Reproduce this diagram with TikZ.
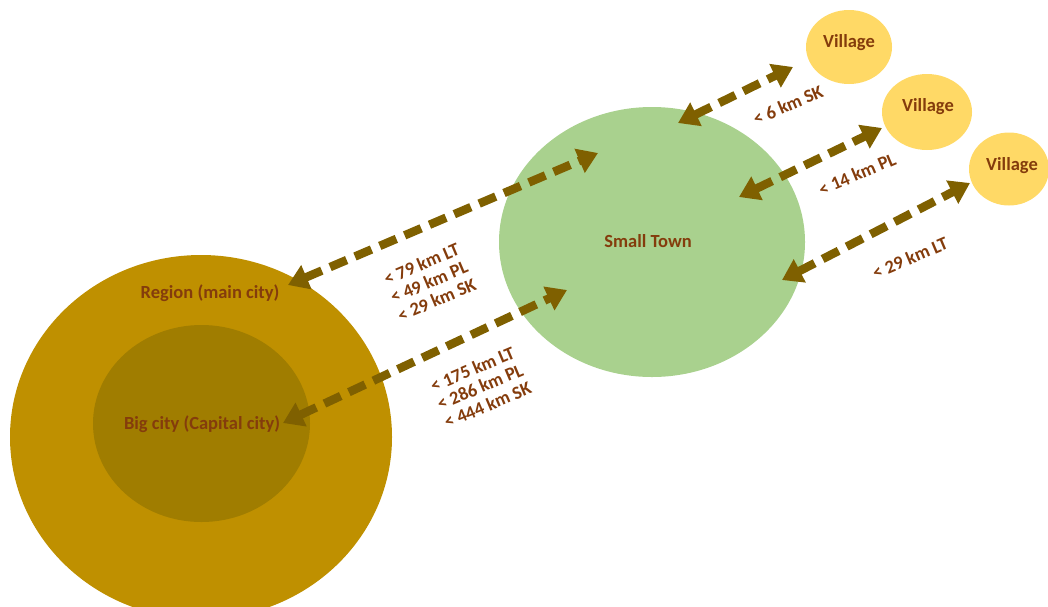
\documentclass[tikz,border=0pt]{standalone}
\usepackage{fontspec}
\setmainfont{Carlito}
\usetikzlibrary{shapes.geometric,arrows.meta}
\definecolor{outerc}{HTML}{BF9000}
\definecolor{innerc}{HTML}{A07D00}
\definecolor{townc}{HTML}{A9D18E}
\definecolor{villc}{HTML}{FFD966}
\definecolor{arrc}{HTML}{7F6000}
\definecolor{txtc}{HTML}{843C0C}
\begin{document}
\begin{tikzpicture}[x=1pt,y=-1pt,
  blob/.style={ellipse,draw=none,inner sep=0pt},
  lbl/.style={text=txtc,font=\fontsize{18.5}{19.5}\selectfont\bfseries,inner sep=0pt},
  dist/.style={lbl,rotate=23,align=center},
  conn/.style={draw=arrc,line width=8.5pt,dash pattern=on 18pt off 9pt,
    {Triangle[width=25pt,length=20pt]}-{Triangle[width=25pt,length=20pt]}}]
\useasboundingbox (0,0) rectangle (1048,606);
\clip (0,0) rectangle (1048,606);
% shapes
\node[blob,fill=outerc,minimum width=382pt,minimum height=364pt] (region) at (201,437) {};
\node[blob,fill=innerc,minimum width=217pt,minimum height=197pt] (big) at (201.5,423.5) {};
\node[blob,fill=townc,minimum width=306pt,minimum height=270pt] (town) at (652,242) {};
\node[blob,fill=villc,minimum width=86pt,minimum height=74pt] (v1) at (849,47) {};
\node[blob,fill=villc,minimum width=90pt,minimum height=76pt] (v2) at (927,112) {};
\node[blob,fill=villc,minimum width=80pt,minimum height=73pt] (v3) at (1009,169) {};
% labels
\node[lbl] (tregion) at (210,293) {Region (main city)};
\node[lbl] (tbig) at (202,424) {Big city (Capital city)};
\node[lbl] (ttown) at (648,241) {Small Town};
\node[lbl] (tv1) at (849,43) {Village};
\node[lbl] (tv2) at (928,107) {Village};
\node[lbl] (tv3) at (1012,166) {Village};
% arrow end points
\coordinate (a1s) at (288,285);
\coordinate (a1e) at (598,153);
\coordinate (a2s) at (283,423);
\coordinate (a2e) at (567,290);
\coordinate (a3s) at (678,123);
\coordinate (a3e) at (793,67);
\coordinate (a4s) at (739,197);
\coordinate (a4e) at (882,128);
\coordinate (a5s) at (782,280);
\coordinate (a5e) at (970,183);
\draw[conn] (a1s) -- (a1e);
\draw[conn] (a2s) -- (a2e);
\draw[conn] (a3s) -- (a3e);
\draw[conn] (a4s) -- (a4e);
\draw[conn] (a5s) -- (a5e);
% distance labels
\node[dist] (d1) at (429,282) {< 79 km LT\\< 49 km PL\\< 29 km SK};
\node[dist] (d2) at (480,387) {< 175 km LT\\< 286 km PL\\< 444 km SK};
\node[dist] (d3) at (788,105) {< 6 km SK};
\node[dist] (d4) at (857,174) {< 14 km PL};
\node[dist] (d5) at (910,258) {< 29 km LT};
\end{tikzpicture}
\end{document}
